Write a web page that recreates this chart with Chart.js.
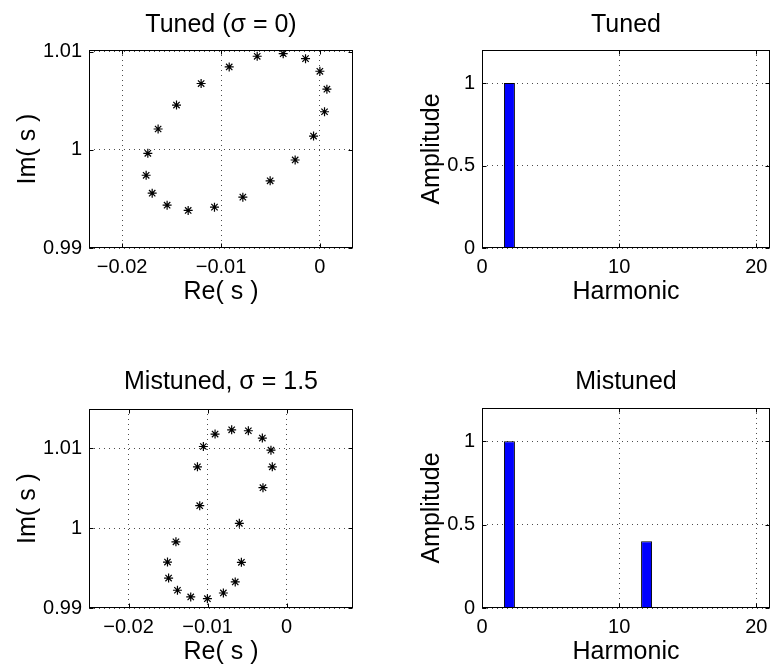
<!DOCTYPE html>
<html>
<head>
<meta charset="utf-8">
<script src="https://cdn.jsdelivr.net/npm/chart.js@4.4.0/dist/chart.umd.min.js"></script>
<style>
  body { margin: 0; background: #fff; overflow: hidden; }
  #fig { position: relative; width: 773px; height: 668px; }
  canvas { position: absolute; }
</style>
</head>
<body>
<div id="fig">
  <canvas id="tunedPoles" width="370" height="308" style="left:0px;top:0px"></canvas>
  <canvas id="tunedHarm" width="383" height="308" style="left:390px;top:0px"></canvas>
  <canvas id="mistunedPoles" width="370" height="309" style="left:0px;top:359px"></canvas>
  <canvas id="mistunedHarm" width="383" height="310" style="left:390px;top:358px"></canvas>
</div>
<script>
// pole positions
const tunedRe = [-0.01201, -0.01450, -0.01636, -0.01740, -0.01757, -0.01696, -0.01545, -0.01332, -0.01066, -0.00779,
                 -0.00503, -0.00250, -0.00064, 0.00047, 0.00071, 0.00000, -0.00145, -0.00371, -0.00634, -0.00917];
const tunedIm = [1.00678, 1.00458, 1.00214, 0.99966, 0.99742, 0.99559, 0.99437, 0.99383, 0.99417, 0.99519,
                 0.99685, 0.99898, 1.00142, 1.00390, 1.00620, 1.00803, 1.00932, 1.00983, 1.00956, 1.00847];
const mistunedRe = [-0.01053, -0.00905, -0.00695, -0.00484, -0.00307, -0.00198, -0.00181, -0.00299, -0.00598, -0.00572,
                    -0.00650, -0.00800, -0.01002, -0.01213, -0.01381, -0.01493, -0.01507, -0.01400, -0.01099, -0.01128];
const mistunedIm = [1.01021, 1.01176, 1.01230, 1.01218, 1.01126, 1.00975, 1.00766, 1.00506, 1.00059, 0.99571,
                    0.99326, 0.99188, 0.99117, 0.99138, 0.99222, 0.99375, 0.99575, 0.99828, 1.00280, 1.00766];

// harmonic amplitudes
const harmonics = [1, 2, 3, 4, 5, 6, 7, 8, 9, 10, 11, 12, 13, 14, 15, 16, 17, 18, 19, 20];
const tunedAmp = [0, 1, 0, 0, 0, 0, 0, 0, 0, 0, 0, 0, 0, 0, 0, 0, 0, 0, 0, 0];
const mistunedAmp = [0, 1, 0, 0, 0, 0, 0, 0, 0, 0, 0, 0.4, 0, 0, 0, 0, 0, 0, 0, 0];

// ticks
const reTicks = [-0.02, -0.01, 0];
const reTickLabels = ["\u22120.02", "\u22120.01", "0"];
const imTicks = [0.99, 1, 1.01];
const imTickLabels = ["0.99", "1", "1.01"];
const harmTicks = [0, 10, 20];
const harmTickLabels = ["0", "10", "20"];
const ampTicks = [0, 0.5, 1];
const ampTickLabels = ["0", "0.5", "1"];

Chart.defaults.font.family = "'Liberation Sans', Arial, Helvetica, sans-serif";
Chart.defaults.color = "#000";

// matlab-style box with inward tick marks
const boxFrame = {
    id: "boxFrame",
    afterDraw(chart) {
        const { ctx, chartArea: a, scales } = chart;
        const L = Math.round(a.left) + 0.5, R = Math.round(a.right) - 0.5;
        const T = Math.round(a.top) + 0.5, B = Math.round(a.bottom) - 0.5;
        ctx.save();
        ctx.strokeStyle = "#000";
        ctx.lineWidth = 1;
        ctx.beginPath();
        scales.x.ticks.forEach(t => {
            const px = Math.round(scales.x.getPixelForValue(t.value)) + 0.5;
            ctx.moveTo(px, B); ctx.lineTo(px, B - 4);
            ctx.moveTo(px, T); ctx.lineTo(px, T + 4);
        });
        scales.y.ticks.forEach(t => {
            const py = Math.round(scales.y.getPixelForValue(t.value)) + 0.5;
            ctx.moveTo(L, py); ctx.lineTo(L + 4, py);
            ctx.moveTo(R, py); ctx.lineTo(R - 4, py);
        });
        ctx.stroke();
        ctx.strokeRect(L, T, R - L, B - T);
        ctx.restore();
    }
};

function axis(min, max, values, labels, title, size, titlePad) {
    return {
        type: "linear",
        min: min,
        max: max,
        offset: false,
        afterBuildTicks: s => { s.ticks = values.map(v => ({ value: v })); },
        afterFit: s => {
            if (s.isHorizontal()) s.height = size; else s.width = size;
            s.paddingLeft = 0; s.paddingRight = 0; s.paddingTop = 0; s.paddingBottom = 0;
        },
        ticks: {
            font: { size: 20 },
            padding: 7,
            autoSkip: false,
            maxRotation: 0,
            callback: (v, i) => labels[i]
        },
        grid: { color: "rgba(0,0,0,0.7)", lineWidth: 1, drawTicks: false, offset: false },
        border: { display: false, dash: [1, 4] },
        title: { display: true, text: title, font: { size: 25, weight: "normal" }, padding: titlePad }
    };
}

function baseOptions(title, titlePad, rightPad, scales) {
    return {
        responsive: false,
        animation: false,
        layout: { padding: { left: 0, top: 0, bottom: 0, right: rightPad } },
        plugins: {
            legend: { display: false },
            tooltip: { enabled: false },
            title: {
                display: true,
                fullSize: false,
                text: title,
                font: { size: 25, weight: "normal" },
                padding: titlePad
            }
        },
        scales: scales
    };
}

const starStyle = {
    pointStyle: "star",
    pointRadius: 4.5,
    borderColor: "#000",
    backgroundColor: "#000",
    borderWidth: 1.2
};

// Tuned poles
new Chart(document.getElementById("tunedPoles"), {
    type: "scatter",
    data: {
        datasets: [Object.assign({ data: tunedRe.map((x, i) => ({ x: x, y: tunedIm[i] })) }, starStyle)]
    },
    options: baseOptions("Tuned (\u03c3 = 0)", { top: 10, bottom: 10 }, 17, {
        x: axis(-0.02335, 0.00335, reTicks, reTickLabels, "Re( s )", 60, { top: 0, bottom: 1 }),
        y: axis(0.99, 1.0102, imTicks, imTickLabels, "Im( s )", 89, { top: 13, bottom: 0 })
    }),
    plugins: [boxFrame]
});

// Tuned harmonics
new Chart(document.getElementById("tunedHarm"), {
    type: "bar",
    data: {
        datasets: [{
            data: harmonics.map((h, i) => ({ x: h, y: tunedAmp[i] })),
            backgroundColor: "#0000ff",
            borderColor: "#000",
            borderWidth: 1,
            barPercentage: 0.8,
            categoryPercentage: 1
        }]
    },
    options: baseOptions("Tuned", { top: 10, bottom: 10 }, 3, {
        x: axis(0, 21, harmTicks, harmTickLabels, "Harmonic", 60, { top: 0, bottom: 1 }),
        y: axis(0, 1.2, ampTicks, ampTickLabels, "Amplitude", 92, { top: 27, bottom: 0 })
    }),
    plugins: [boxFrame]
});

// Mistuned poles
new Chart(document.getElementById("mistunedPoles"), {
    type: "scatter",
    data: {
        datasets: [Object.assign({ data: mistunedRe.map((x, i) => ({ x: x, y: mistunedIm[i] })) }, starStyle)]
    },
    options: baseOptions("Mistuned, \u03c3 = 1.5", { top: 8, bottom: 12 }, 17, {
        x: axis(-0.025, 0.0084, reTicks, reTickLabels, "Re( s )", 60, { top: 0, bottom: 1 }),
        y: axis(0.99, 1.0149, imTicks, imTickLabels, "Im( s )", 89, { top: 13, bottom: 0 })
    }),
    plugins: [boxFrame]
});

// Mistuned harmonics
new Chart(document.getElementById("mistunedHarm"), {
    type: "bar",
    data: {
        datasets: [{
            data: harmonics.map((h, i) => ({ x: h, y: mistunedAmp[i] })),
            backgroundColor: "#0000ff",
            borderColor: "#000",
            borderWidth: 1,
            barPercentage: 0.8,
            categoryPercentage: 1
        }]
    },
    options: baseOptions("Mistuned", { top: 9, bottom: 11 }, 3, {
        x: axis(0, 21, harmTicks, harmTickLabels, "Harmonic", 60, { top: 0, bottom: 1 }),
        y: axis(0, 1.2, ampTicks, ampTickLabels, "Amplitude", 92, { top: 27, bottom: 0 })
    }),
    plugins: [boxFrame]
});
</script>
</body>
</html>
